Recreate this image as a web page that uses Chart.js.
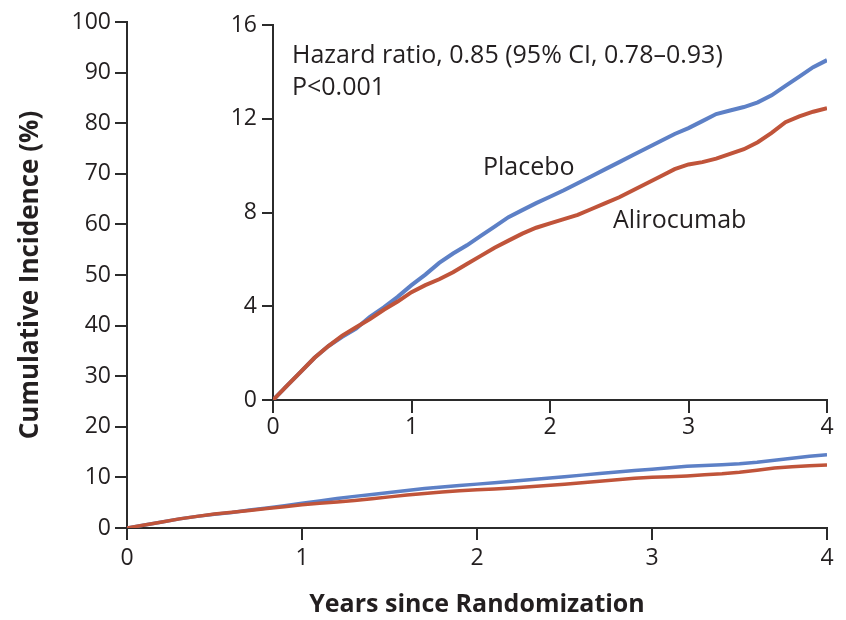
<!DOCTYPE html>
<html>
<head>
<meta charset="utf-8">
<script src="https://cdn.jsdelivr.net/npm/chart.js@4"></script>
<style>
  html, body { margin: 0; padding: 0; background: #fff; }
  #wrap { position: relative; width: 846px; height: 620px; }
  #main { position: absolute; left: 0; top: 0; }
  #inset { position: absolute; left: 200px; top: 0; }
</style>
</head>
<body>
<div id="wrap">
  <canvas id="main" width="846" height="620"></canvas>
  <canvas id="inset" width="646" height="450"></canvas>
</div>
<script>
// years since randomization
const years = [0, 0.1, 0.2, 0.3, 0.4, 0.5, 0.6, 0.7, 0.8, 0.9,
  1.0, 1.1, 1.2, 1.3, 1.4, 1.5, 1.6, 1.7, 1.8, 1.9,
  2.0, 2.1, 2.2, 2.3, 2.4, 2.5, 2.6, 2.7, 2.8, 2.9,
  3.0, 3.1, 3.2, 3.3, 3.4, 3.5, 3.6, 3.7, 3.8, 3.9, 4.0]

// cumulative incidence, %
const placebo = [0, 0.6, 1.2, 1.8, 2.3, 2.7, 3.05, 3.55, 3.95, 4.4,
  4.9, 5.35, 5.85, 6.25, 6.6, 7.0, 7.4, 7.8, 8.1, 8.4,
  8.67, 8.95, 9.25, 9.55, 9.85, 10.15, 10.45, 10.75, 11.05, 11.35,
  11.6, 11.9, 12.2, 12.35, 12.5, 12.7, 13.0, 13.4, 13.8, 14.2, 14.5]

const alirocumab = [0, 0.6, 1.2, 1.8, 2.3, 2.75, 3.1, 3.45, 3.85, 4.2,
  4.6, 4.9, 5.15, 5.45, 5.8, 6.15, 6.5, 6.8, 7.1, 7.35,
  7.54, 7.72, 7.9, 8.15, 8.4, 8.65, 8.95, 9.25, 9.55, 9.85,
  10.05, 10.15, 10.3, 10.5, 10.7, 11.0, 11.4, 11.85, 12.1, 12.3, 12.45]

const xTicks = [0, 1, 2, 3, 4]
const mainYTicks = [0, 10, 20, 30, 40, 50, 60, 70, 80, 90, 100]
const insetYTicks = [0, 4, 8, 12, 16]

// text placed in the inset, in data units
const insetNotes = [
  { text: 'Hazard ratio, 0.85 (95% CI, 0.78\u20130.93)', x: 0.137, y: 14.38 },
  { text: 'P<0.001', x: 0.137, y: 13.0 },
  { text: 'Placebo', x: 1.516, y: 9.6 },
  { text: 'Alirocumab', x: 2.455, y: 7.34 }
]

const blue = '#5d80c6'
const red = '#c0543a'
const ink = '#231f20'
const axisColor = '#2b2b2b'
const family = '"Open Sans", "Noto Sans", sans-serif'

const points = (vals) => years.map((x, i) => ({ x, y: vals[i] }))

function datasets (width) {
  // alirocumab first so it is painted over placebo
  return [
    { label: 'Alirocumab', data: points(alirocumab), borderColor: red, borderWidth: width, pointRadius: 0, tension: 0 },
    { label: 'Placebo', data: points(placebo), borderColor: blue, borderWidth: width, pointRadius: 0, tension: 0 }
  ]
}

function axis (ticks, tickLength, padding, extra) {
  return Object.assign({
    type: 'linear',
    min: ticks[0],
    max: ticks[ticks.length - 1],
    afterBuildTicks: (s) => { s.ticks = ticks.map(value => ({ value })) },
    ticks: { font: { family, size: 23 }, color: ink, padding, maxRotation: 0 },
    grid: { drawOnChartArea: false, drawTicks: true, tickLength, color: axisColor, lineWidth: 2 },
    border: { display: true, color: axisColor, width: 2 }
  }, extra)
}

const notesPlugin = {
  id: 'notes',
  afterDatasetsDraw (chart) {
    const { ctx, scales: { x, y } } = chart
    ctx.save()
    ctx.fillStyle = ink
    ctx.font = '25px ' + family
    ctx.textAlign = 'left'
    ctx.textBaseline = 'alphabetic'
    insetNotes.forEach(n => ctx.fillText(n.text, x.getPixelForValue(n.x), y.getPixelForValue(n.y)))
    ctx.restore()
  }
}

const common = {
  responsive: false,
  animation: false,
  plugins: { legend: { display: false }, tooltip: { enabled: false } }
}

new Chart(document.getElementById('main'), {
  type: 'line',
  data: { datasets: datasets(3.5) },
  options: Object.assign({}, common, {
    layout: { padding: { top: 22, right: 19, left: 0, bottom: 0 } },
    scales: {
      x: axis(xTicks, 12, 5, {
        afterFit: (s) => { s.height = 92 },
        title: {
          display: true,
          text: 'Years since Randomization',
          color: ink,
          font: { family, size: 25, weight: 'bold' },
          padding: { top: 0, bottom: 0 }
        }
      }),
      y: axis(mainYTicks, 12, 4, {
        afterFit: (s) => { s.width = 127 },
        title: {
          display: true,
          text: 'Cumulative Incidence (%)',
          color: ink,
          font: { family, size: 26, weight: 'bold' },
          padding: { top: 15, bottom: 0 }
        }
      })
    }
  })
})

new Chart(document.getElementById('inset'), {
  type: 'line',
  data: { datasets: datasets(4) },
  options: Object.assign({}, common, {
    layout: { padding: { top: 25, right: 19, left: 0, bottom: 0 } },
    scales: {
      x: axis(xTicks, 13, 1, { afterFit: (s) => { s.height = 50 } }),
      y: axis(insetYTicks, 11, 5, { afterFit: (s) => { s.width = 73 } })
    }
  }),
  plugins: [notesPlugin]
})
</script>
</body>
</html>
